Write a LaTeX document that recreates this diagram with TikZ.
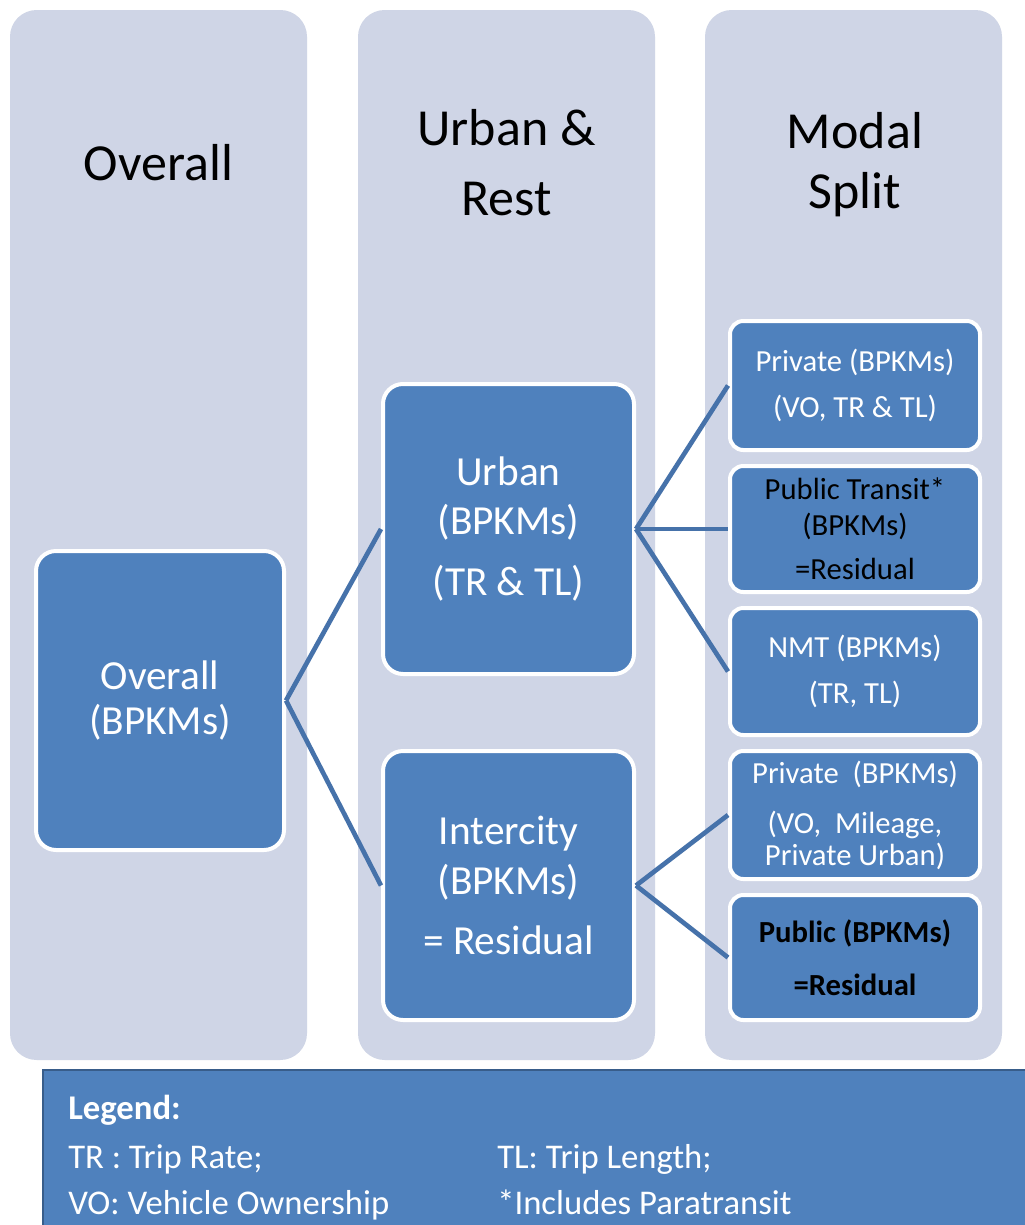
\documentclass[tikz,border=0pt]{standalone}
\usepackage{fontspec}
\setmainfont{Carlito}
\definecolor{colbg}{HTML}{CFD5E6}
\definecolor{boxbl}{HTML}{4F81BD}
\definecolor{linebl}{HTML}{4672AA}
\definecolor{legbd}{HTML}{385D8A}
\begin{document}
\begin{tikzpicture}[x=0.75pt,y=-0.75pt,
  colbox/.style={fill=colbg, draw=none, rounded corners=20pt, inner sep=0pt,
    minimum width=222.75pt, minimum height=787.5pt},
  head/.style={align=center, text=black, font=\fontsize{39}{47}\selectfont},
  bigbox/.style={fill=boxbl, draw=white, line width=3pt, rounded corners=15pt,
    align=center, text=white, inner sep=0pt, font=\fontsize{31}{37}\selectfont},
  smallbox/.style={fill=boxbl, draw=white, line width=3pt, rounded corners=10pt,
    align=center, text=white, inner sep=0pt, minimum width=187.5pt,
    font=\fontsize{23}{29}\selectfont},
  conn/.style={draw=linebl, line width=3.5pt},
  legendbox/.style={fill=boxbl, draw=legbd, line width=1.5pt, inner sep=0pt,
    minimum width=747.75pt, minimum height=127.5pt},
  legtext/.style={anchor=base west, text=white, inner sep=0pt,
    font=\fontsize{26}{35}\selectfont}]
\useasboundingbox (0,0) rectangle (1025,1225);
\clip (0,0) rectangle (1025,1225);
\fill[white] (0,0) rectangle (1025,1225);

% columns
\node[colbox] (col1) at (158.5,535) {};
\node[colbox] (col2) at (506.5,535) {};
\node[colbox] (col3) at (853.5,535) {};

% headers
\node[head] (h1) at (158.5,163) {Overall};
\node[head] (h2) at (506.5,163) {Urban \&\\[5.5pt]Rest};
\node[head] (h3) at (855,165) {Modal\\[-2pt]Split};

% boxes
\node[bigbox, minimum width=186pt, minimum height=224.25pt] (ov) at (160,700.5)
  {Overall\\[-3pt](BPKMs)};
\node[bigbox, minimum width=188.25pt, minimum height=217.5pt] (ur) at (508.5,529)
  {Urban\\(BPKMs)\\[9pt](TR \& TL)};
\node[bigbox, minimum width=188.25pt, minimum height=201.75pt] (ic) at (508.5,885.5)
  {Intercity\\(BPKMs)\\[8pt]= Residual};

\node[smallbox, minimum height=96.75pt] (p1) at (855,385.5)
  {Private (BPKMs)\\[6pt](VO, TR \& TL)};
\node[smallbox, minimum height=94.5pt, text=black] (pt) at (855,529)
  {Public Transit*\\[-2pt](BPKMs)\\[4pt]=Residual};
\node[smallbox, minimum height=95.25pt] (nmt) at (855,671.5)
  {NMT (BPKMs)\\[5.5pt](TR, TL)};
\node[smallbox, minimum height=96pt] (p2) at (855,815)
  {Private~~(BPKMs)\\[8.5pt](VO,~~Mileage,\\[-5pt]Private Urban)};
\node[smallbox, minimum height=93.75pt, text=black, font=\fontsize{23}{29}\selectfont\bfseries] (pub) at (855,957.5)
  {Public (BPKMs)\\[11pt]=Residual};

% connectors
\draw[conn] (ov.east) -- (ur.west);
\draw[conn] (ov.east) -- (ic.west);
\draw[conn] (ur.east) -- (p1.west);
\draw[conn] (ur.east) -- (pt.west);
\draw[conn] (ur.east) -- (nmt.west);
\draw[conn] (ic.east) -- (p2.west);
\draw[conn] (ic.east) -- (pub.west);

% legend
\node[legendbox] (legend) at (541.5,1155) {};
\node[legtext, font=\fontsize{26}{35}\selectfont\bfseries] (lg0) at (68,1119) {Legend:};
\node[legtext] (lg1) at (68,1168) {TR : Trip Rate;};
\node[legtext] (lg2) at (497,1168) {TL: Trip Length;};
\node[legtext] (lg3) at (68,1214) {VO: Vehicle Ownership};
\node[legtext] (lg4) at (497,1214) {*Includes Paratransit};
\end{tikzpicture}
\end{document}
